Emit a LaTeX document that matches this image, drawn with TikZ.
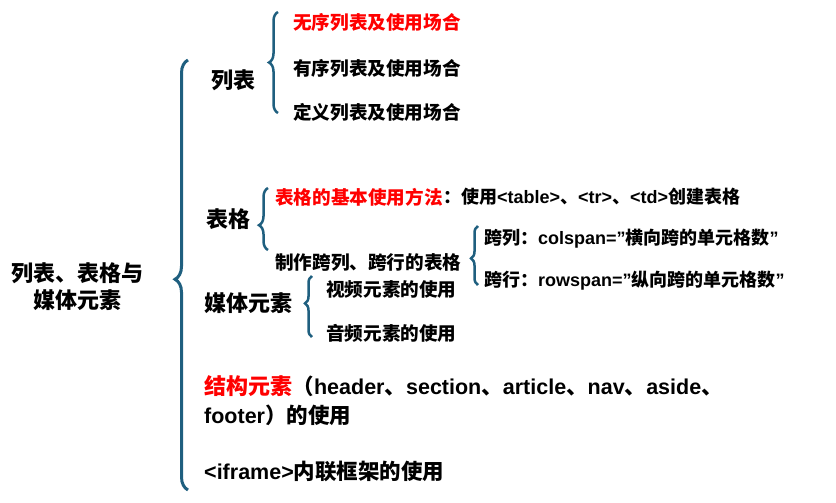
\documentclass[tikz,border=0pt]{standalone}
\usepackage{fontspec}
\setmainfont{Liberation Sans}
\newfontfamily\cjk{Noto Sans CJK SC Bold}
\newcommand{\cj}[1]{{\cjk #1}}
\newcommand{\qq}{\symbol{34}}
\usetikzlibrary{decorations.pathreplacing}
\definecolor{bc}{HTML}{1F5F7F}
\definecolor{rd}{HTML}{FF0000}
\begin{document}
\begin{tikzpicture}[x=1pt,y=-1pt,
  br/.style={draw=bc,line width=2.5pt,decorate,decoration={brace,amplitude=9pt,aspect=#1}},
  br/.default=0.5,
  big/.style={font=\bfseries\fontsize{22}{27}\selectfont\cjk,inner sep=0pt},
  sm/.style={font=\bfseries\fontsize{16.5}{20}\selectfont\cjk\fontsize{18.6}{22}\selectfont,inner sep=0pt,anchor=west},
  lt/.style={font=\bfseries\fontsize{18}{22}\selectfont,inner sep=0pt,anchor=west},
  lg/.style={font=\bfseries\fontsize{21.5}{26}\selectfont,inner sep=0pt,anchor=west}]
\useasboundingbox (0,0) rectangle (836,503);
\node[big,align=center] (root) at (78,287) {列表、表格与\\媒体元素};
\coordinate (mb1) at (188,490); \coordinate (mb2) at (188,60);
\draw[br=0.49,line width=3pt,decoration={amplitude=13pt}] (mb1) -- (mb2);
% 列表
\node[big] (lb) at (233,80) {列表};
\coordinate (b1a) at (278,113); \coordinate (b1b) at (278,12);
\draw[br=0.5] (b1a) -- (b1b);
\node[sm,text=rd] (l1) at (293,22) {无序列表及使用场合};
\node[sm] (l2) at (293,68) {有序列表及使用场合};
\node[sm] (l3) at (293,112) {定义列表及使用场合};
% 表格
\node[big] (bg) at (228,219) {表格};
\coordinate (b2a) at (268,250); \coordinate (b2b) at (268,188);
\draw[br=0.4] (b2a) -- (b2b);
\node[sm,text=rd] (t1) at (275,197) {表格的基本使用方法};
\node[lt] (t1b) at (t1.east) {\cj{：使用}<table>\cj{、}<tr>\cj{、}<td>\cj{创建表格}};
\node[sm] (t2) at (275,263) {制作跨列、跨行的表格};
\coordinate (b3a) at (478,285); \coordinate (b3b) at (478,226);
\draw[br=0.45,decoration={amplitude=7pt}] (b3a) -- (b3b);
\node[lt] (s1) at (484,239) {\cj{跨列：}colspan=\qq\cj{横向跨的单元格数}\qq};
\node[lt] (s2) at (484,281) {\cj{跨行：}rowspan=\qq\cj{纵向跨的单元格数}\qq};
% 媒体元素
\node[big,anchor=west] (mt) at (204,303) {媒体元素};
\coordinate (b4a) at (312,337); \coordinate (b4b) at (312,276);
\draw[br=0.55,decoration={amplitude=7pt}] (b4a) -- (b4b);
\node[sm] (m1) at (326,289) {视频元素的使用};
\node[sm] (m2) at (326,333) {音频元素的使用};
% 结构元素
\node[big,anchor=west,text=rd] (jg) at (204,386) {结构元素};
\node[lg] (jg2) at (jg.east) {\cj{（}header\cj{、}section\cj{、}article\cj{、}nav\cj{、}aside\cj{、}};
\node[lg] (jg3) at (204,415) {footer\cj{）的使用}};
\node[lg] (if) at (204,471) {<iframe>\cj{内联框架的使用}};
\end{tikzpicture}
\end{document}
